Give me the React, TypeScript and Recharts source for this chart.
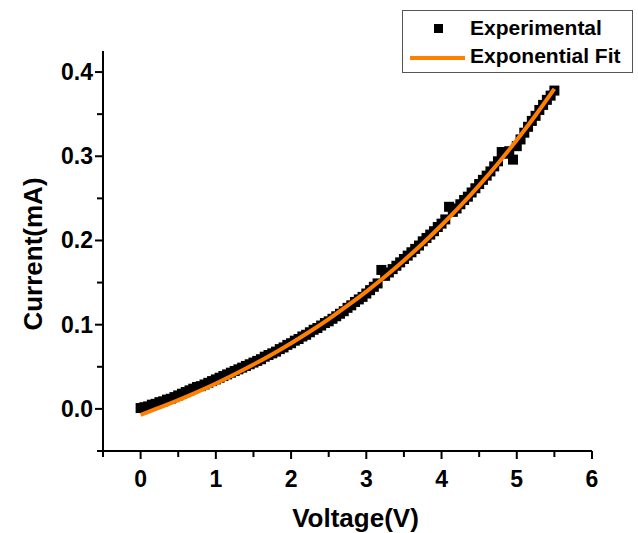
import {
  ComposedChart,
  Scatter,
  Line,
  XAxis,
  YAxis,
  Legend,
  Label,
} from 'recharts'

// Experimental I-V points (Voltage in V, Current in mA)
const expVoltage = [
  0, 0.05, 0.1, 0.15, 0.2, 0.25, 0.3, 0.35, 0.4, 0.45,
  0.5, 0.55, 0.6, 0.65, 0.7, 0.75, 0.8, 0.85, 0.9, 0.95,
  1, 1.05, 1.1, 1.15, 1.2, 1.25, 1.3, 1.35, 1.4, 1.45,
  1.5, 1.55, 1.6, 1.65, 1.7, 1.75, 1.8, 1.85, 1.9, 1.95,
  2, 2.05, 2.1, 2.15, 2.2, 2.25, 2.3, 2.35, 2.4, 2.45,
  2.5, 2.55, 2.6, 2.65, 2.7, 2.75, 2.8, 2.85, 2.9, 2.95,
  3, 3.05, 3.1, 3.15, 3.2, 3.25, 3.3, 3.35, 3.4, 3.45,
  3.5, 3.55, 3.6, 3.65, 3.7, 3.75, 3.8, 3.85, 3.9, 3.95,
  4, 4.05, 4.1, 4.15, 4.2, 4.25, 4.3, 4.35, 4.4, 4.45,
  4.5, 4.55, 4.6, 4.65, 4.7, 4.75, 4.8, 4.85, 4.9, 4.95,
  5, 5.05, 5.1, 5.15, 5.2, 5.25, 5.3, 5.35, 5.4, 5.45,
  5.5,
]
const expCurrent = [
  0.001, 0.002, 0.003, 0.005, 0.006, 0.008, 0.009, 0.011, 0.012, 0.014,
  0.016, 0.018, 0.02, 0.022, 0.024, 0.026, 0.027, 0.029, 0.031, 0.033,
  0.035, 0.037, 0.039, 0.041, 0.043, 0.045, 0.047, 0.049, 0.051, 0.053,
  0.055, 0.057, 0.059, 0.062, 0.064, 0.066, 0.068, 0.071, 0.073, 0.076,
  0.078, 0.081, 0.083, 0.086, 0.088, 0.091, 0.094, 0.096, 0.099, 0.102,
  0.104, 0.107, 0.11, 0.113, 0.116, 0.12, 0.123, 0.127, 0.13, 0.133,
  0.137, 0.141, 0.145, 0.149, 0.165, 0.158, 0.162, 0.166, 0.17, 0.174,
  0.178, 0.182, 0.186, 0.19, 0.194, 0.199, 0.203, 0.207, 0.211, 0.216,
  0.22, 0.225, 0.24, 0.234, 0.238, 0.243, 0.248, 0.252, 0.257, 0.262,
  0.267, 0.272, 0.277, 0.282, 0.288, 0.294, 0.305, 0.303, 0.306, 0.296,
  0.312, 0.32, 0.328, 0.335, 0.342, 0.348, 0.355, 0.361, 0.367, 0.372,
  0.378,
]

// Exponential fit curve
const fitVoltage = [
  0, 0.25, 0.5, 0.75, 1, 1.25, 1.5, 1.75, 2, 2.25, 2.5, 2.75,
  3, 3.25, 3.5, 3.75, 4, 4.25, 4.5, 4.75, 5, 5.25, 5.5,
]
const fitCurrent = [
  -0.007, 0.0014, 0.0104, 0.02, 0.0302, 0.0411, 0.0526, 0.0649, 0.078, 0.0919, 0.1067, 0.1225,
  0.1393, 0.1572, 0.1763, 0.1965, 0.2181, 0.2411, 0.2655, 0.2915, 0.3192, 0.3487, 0.3801,
]

const xTicks = [-0.5, 0, 0.5, 1, 1.5, 2, 2.5, 3, 3.5, 4, 4.5, 5, 5.5, 6]
const yTicks = [-0.05, 0, 0.05, 0.1, 0.15, 0.2, 0.25, 0.3, 0.35, 0.4]

const expData = expVoltage.map((v, k) => ({ v, i: expCurrent[k] }))
const fitData = fitVoltage.map((v, k) => ({ v, i: fitCurrent[k] }))

const FONT = '"Liberation Sans", Arial, sans-serif'
const ORANGE = '#ff7f00'

// black square marker
function SquareDot(props: any) {
  const { cx, cy } = props
  if (cx == null || cy == null) return null
  return <rect x={cx - 5} y={cy - 5} width={10} height={10} fill="#000" />
}

function YTick(props: any) {
  const { x, y, payload } = props
  const major = Math.round(payload.value * 100) % 10 === 0
  return (
    <g>
      <line x1={x - (major ? 8 : 6)} x2={x} y1={y} y2={y} stroke="#000" strokeWidth={2} />
      {major && (
        <text
          x={x - 10}
          y={y + 8}
          textAnchor="end"
          fontFamily={FONT}
          fontWeight="bold"
          fontSize={23}
          fill="#000"
        >
          {payload.value.toFixed(1)}
        </text>
      )}
    </g>
  )
}

function XTick(props: any) {
  const { x, y, payload } = props
  const major = Math.round(payload.value * 10) % 10 === 0
  return (
    <g>
      <line x1={x} x2={x} y1={y} y2={y + (major ? 8 : 6)} stroke="#000" strokeWidth={2} />
      {major && (
        <text
          x={x}
          y={y + 36}
          textAnchor="middle"
          fontFamily={FONT}
          fontWeight="bold"
          fontSize={23}
          fill="#000"
        >
          {payload.value}
        </text>
      )}
    </g>
  )
}

function LegendBox() {
  return (
    <div
      style={{
        width: 229,
        height: 61,
        border: '1px solid #555',
        background: '#fff',
        position: 'relative',
        fontFamily: FONT,
        fontWeight: 'bold',
        fontSize: 21,
        color: '#000',
      }}
    >
      <div style={{ position: 'absolute', left: 31, top: 13, width: 9, height: 9, background: '#000' }} />
      <div style={{ position: 'absolute', left: 67, top: 4, lineHeight: '26px' }}>Experimental</div>
      <div style={{ position: 'absolute', left: 7, top: 45, width: 55, height: 4, background: ORANGE }} />
      <div style={{ position: 'absolute', left: 67, top: 32, lineHeight: '26px' }}>Exponential Fit</div>
    </div>
  )
}

export default function App() {
  return (
    <div style={{ position: 'absolute', left: 0, top: 0, width: 638, height: 533, background: '#fff' }}>
      <ComposedChart
        width={638}
        height={533}
        margin={{ top: 51, right: 46, left: 23, bottom: 42 }}
      >
        <XAxis
          type="number"
          dataKey="v"
          domain={[-0.5, 6]}
          ticks={xTicks}
          interval={0}
          allowDataOverflow
          height={40}
          tickSize={0}
          tickMargin={0}
          tickLine={false}
          axisLine={{ stroke: '#000', strokeWidth: 2 }}
          tick={<XTick />}
        >
          <Label
            content={(p: any) => {
              const vb = p.viewBox
              return (
                <text
                  x={vb.x + vb.width / 2 + 8}
                  y={vb.y + 76}
                  textAnchor="middle"
                  fontFamily={FONT}
                  fontWeight="bold"
                  fontSize={26}
                  fill="#000"
                >
                  Voltage(V)
                </text>
              )
            }}
          />
        </XAxis>
        <YAxis
          type="number"
          dataKey="i"
          domain={[-0.05, 0.425]}
          ticks={yTicks}
          interval={0}
          allowDataOverflow
          width={80}
          tickSize={0}
          tickMargin={0}
          tickLine={false}
          axisLine={{ stroke: '#000', strokeWidth: 2 }}
          tick={<YTick />}
        >
          <Label
            content={(p: any) => {
              const vb = p.viewBox
              const cx = vb.x + 19
              const cy = vb.y + vb.height / 2 + 3
              return (
                <text
                  x={cx}
                  y={cy}
                  transform={`rotate(-90, ${cx}, ${cy})`}
                  textAnchor="middle"
                  fontFamily={FONT}
                  fontWeight="bold"
                  fontSize={26}
                  fill="#000"
                >
                  Current(mA)
                </text>
              )
            }}
          />
        </YAxis>
        <Legend
          layout="horizontal"
          verticalAlign="middle"
          align="center"
          wrapperStyle={{ left: 402, top: 10, width: 231, height: 63 }}
          content={() => <LegendBox />}
        />
        <Scatter
          name="Experimental"
          data={expData}
          dataKey="i"
          fill="#000"
          shape={SquareDot}
          zIndex={100}
          isAnimationActive={false}
        />
        <Line
          name="Exponential Fit"
          data={fitData}
          dataKey="i"
          type="monotone"
          stroke={ORANGE}
          strokeWidth={4}
          dot={false}
          activeDot={false}
          zIndex={1000}
          isAnimationActive={false}
        />
      </ComposedChart>
    </div>
  )
}
